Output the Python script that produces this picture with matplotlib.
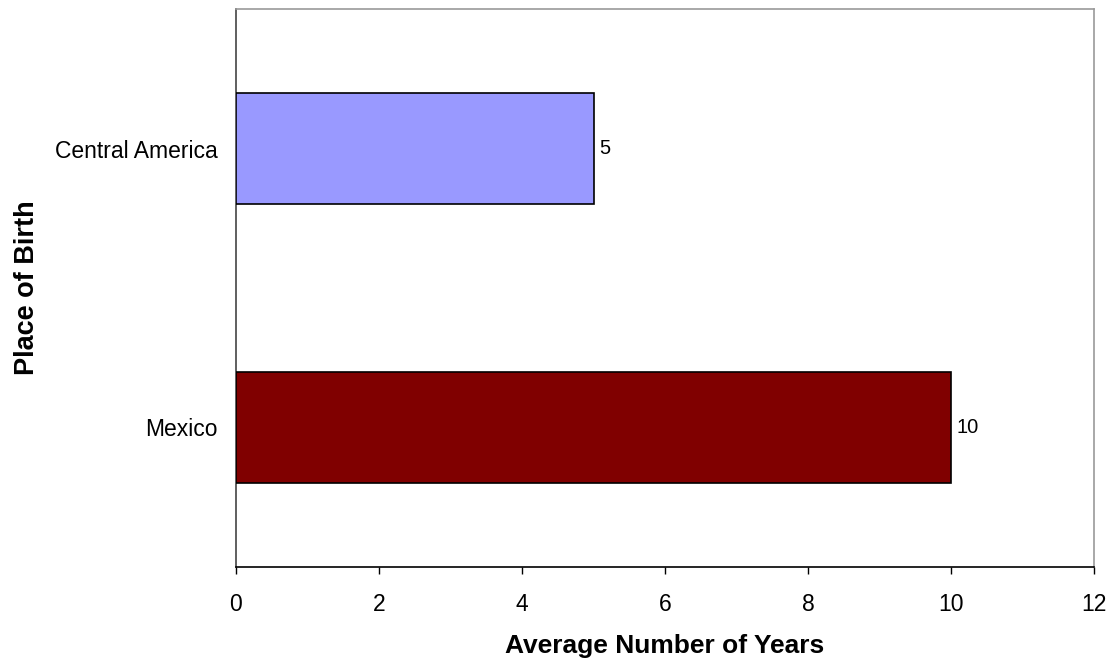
import matplotlib
matplotlib.use("Agg")
import matplotlib.pyplot as plt

categories = ["Mexico", "Central America"]
values = [10, 5]
colors = ["#800000", "#9999FF"]
xticks = [0, 2, 4, 6, 8, 10, 12]

plt.rcParams['font.family'] = ['Liberation Sans', 'DejaVu Sans']

fig = plt.figure(figsize=(11.11, 6.6), dpi=100)
ax = fig.add_axes([236/1111, 1 - 567/660, (1094-236)/1111, (567-9)/660])

pos = list(range(len(categories)))
bars = ax.barh(pos, values, height=0.4, color=colors, edgecolor="black", linewidth=1.2, zorder=3)
for p, v in zip(pos, values):
    ax.text(v + 0.08, p, f"{v:g}", va="center", ha="left", fontsize=14.5)

ax.set_xlim(0, 12)
ax.set_ylim(-0.5, 1.5)
ax.set_xticks(xticks)
ax.set_xticklabels([str(t) for t in xticks], fontsize=16.5)
ax.set_yticks(pos)
ax.set_yticklabels(categories, fontsize=16.5)
ax.tick_params(axis="y", length=0, pad=13)
ax.tick_params(axis="x", length=5, width=1, direction="out", pad=14, color="black")

ax.spines["left"].set_color("#444444")
ax.spines["bottom"].set_color("black")
ax.spines["top"].set_color("#999999")
ax.spines["right"].set_color("#999999")
for s in ax.spines.values():
    s.set_linewidth(1.2)

ax.set_xlabel("Average Number of Years", fontsize=19, fontweight="bold", labelpad=13)
ax.set_ylabel("Place of Birth", fontsize=19.5, fontweight="bold", labelpad=11)

fig.savefig("out.png", dpi=100)
